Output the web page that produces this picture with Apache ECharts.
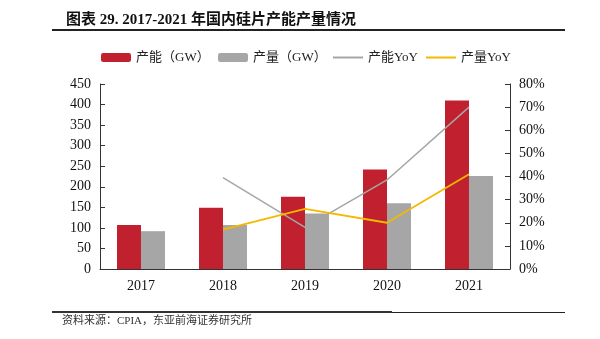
<!DOCTYPE html>
<html><head><meta charset="utf-8">
<script src="https://cdn.jsdelivr.net/npm/echarts@6/dist/echarts.min.js"></script>
<style>html,body{margin:0;padding:0;background:#fff}#c{width:600px;height:339px}</style>
</head><body><div id="c"></div>
<script>
var years = ['2017','2018','2019','2020','2021'];
var capacity = [107, 149, 176, 242, 410];
var output = [92, 107, 135, 160, 226];
var capacityYoY = [null, 39.5, 18, 38.5, 70];
var outputYoY = [null, 17, 26, 20, 41];
var leftTicks = [0, 450, 50];
var rightTicks = [0, 80, 10];

var serif = '"Liberation Serif","Noto Sans CJK SC",serif';
var chart = echarts.init(document.getElementById('c'));
var legBase = {top: 51, itemWidth: 30, itemHeight: 9, textStyle: {fontFamily: serif, fontSize: 13, color: '#222'}, padding: 0};
chart.setOption({
  animation: false,
  title: {text: '图表 29. 2017-2021 年国内硅片产能产量情况', left: 61, top: 8,
    textStyle: {fontFamily: serif, fontSize: 15, fontWeight: 'bold', color: '#111'}},
  graphic: [
    {type: 'line', shape: {x1: 52, y1: 30, x2: 565, y2: 30}, style: {stroke: '#222', lineWidth: 2}},
    {type: 'line', shape: {x1: 52, y1: 312, x2: 392, y2: 312}, style: {stroke: '#333', lineWidth: 2}},
    {type: 'line', shape: {x1: 392, y1: 312.5, x2: 565, y2: 312.5}, style: {stroke: '#222', lineWidth: 1}},
    {type: 'text', left: 62, top: 316, style: {text: '资料来源：CPIA，东亚前海证券研究所', font: '11px ' + serif, fill: '#333'}}
  ],
  legend: [
    Object.assign({}, legBase, {left: 101, data: ['产能（GW）']}),
    Object.assign({}, legBase, {left: 218, data: ['产量（GW）']}),
    Object.assign({}, legBase, {left: 333, data: [{name: '产能YoY', icon: 'rect'}], itemHeight: 2}),
    Object.assign({}, legBase, {left: 426, data: [{name: '产量YoY', icon: 'rect'}], itemHeight: 2})
  ],
  grid: {left: 100, right: 90, top: 84, bottom: 70},
  xAxis: {type: 'category', data: years,
    axisLine: {lineStyle: {color: '#333', width: 1}}, axisTick: {show: false},
    axisLabel: {fontFamily: serif, fontSize: 14, color: '#111', margin: 10}},
  yAxis: [
    {type: 'value', min: leftTicks[0], max: leftTicks[1], interval: leftTicks[2],
      axisLine: {show: true, lineStyle: {color: '#333'}}, axisTick: {show: true, inside: true, length: 5, lineStyle: {color: '#333'}},
      splitLine: {show: false}, axisLabel: {fontFamily: serif, fontSize: 14, color: '#111', margin: 9}},
    {type: 'value', min: rightTicks[0], max: rightTicks[1], interval: rightTicks[2], position: 'right',
      axisLine: {show: true, lineStyle: {color: '#333'}}, axisTick: {show: true, inside: true, length: 5, lineStyle: {color: '#333'}},
      splitLine: {show: false}, axisLabel: {fontFamily: serif, fontSize: 14, color: '#111', margin: 9, formatter: '{value}%'}}
  ],
  series: [
    {name: '产能（GW）', type: 'bar', data: capacity, barWidth: 24, barGap: '0%', itemStyle: {color: '#C1212F'}},
    {name: '产量（GW）', type: 'bar', data: output, barWidth: 24, barGap: '0%', itemStyle: {color: '#A6A6A6'}},
    {name: '产能YoY', type: 'line', yAxisIndex: 1, data: capacityYoY, symbol: 'none', lineStyle: {color: '#A6A6A6', width: 1.5}, itemStyle: {color: '#A6A6A6'}},
    {name: '产量YoY', type: 'line', yAxisIndex: 1, data: outputYoY, symbol: 'none', lineStyle: {color: '#F5B800', width: 1.8}, itemStyle: {color: '#F5B800'}}
  ]
});
</script></body></html>
